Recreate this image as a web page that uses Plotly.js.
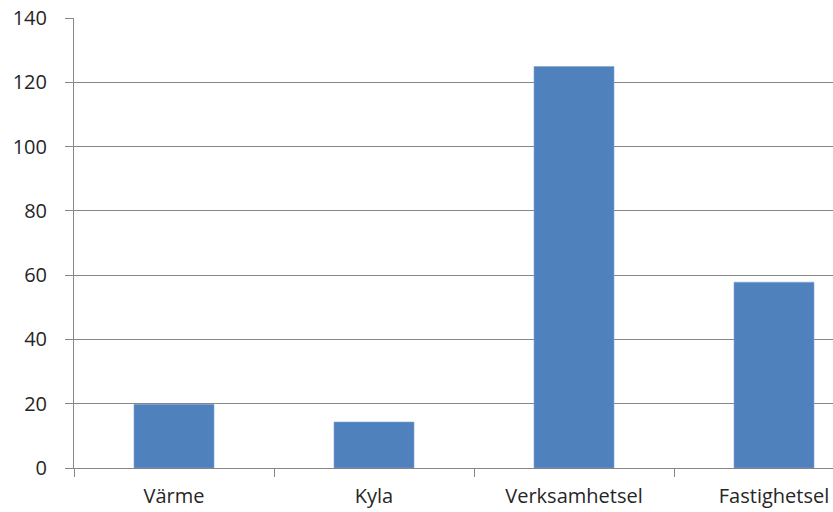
<!DOCTYPE html>
<html>
<head>
<meta charset="utf-8">
<script src="https://cdn.plot.ly/plotly-3.0.1.min.js"></script>
<style>html,body{margin:0;padding:0;overflow:hidden;background:#fff}</style>
</head>
<body>
<div id="chart" style="width:833px;height:512px"></div>
<script>
const categories = ["Värme", "Kyla", "Verksamhetsel", "Fastighetsel"];
const values = [19.8, 14.3, 124.9, 57.8];
const yTicks = [0, 20, 40, 60, 80, 100, 120, 140];

const FONT = "Open Sans, DejaVu Sans, sans-serif";
const trace = {
  type: "bar",
  x: categories,
  y: values,
  width: 0.4,
  marker: {color: "#4F81BD", line: {color: "#7FA3D0", width: 0.6}},
  hoverinfo: "skip"
};
const layout = {
  width: 833, height: 512,
  margin: {l: 74, r: 0, t: 18, b: 44, pad: 0},
  paper_bgcolor: "#ffffff", plot_bgcolor: "#ffffff",
  showlegend: false,
  font: {family: FONT, size: 20, color: "#262626"},
  bargap: 0.6,
  xaxis: {
    type: "category",
    range: [-0.5, 3.295],
    showgrid: false,
    showline: true, linecolor: "#868686", linewidth: 1,
    ticks: "outside", tickson: "boundaries", ticklen: 8, tickcolor: "#868686", tickwidth: 1,
    ticklabelstandoff: 10,
    tickfont: {family: FONT, size: 20, color: "#262626"},
    fixedrange: true, zeroline: false
  },
  yaxis: {
    range: [0, 140],
    tickvals: yTicks,
    ticktext: yTicks.map(String),
    showgrid: true, gridcolor: "#868686", gridwidth: 1,
    showline: true, linecolor: "#868686", linewidth: 1,
    ticks: "outside", ticklen: 8, tickcolor: "#868686", tickwidth: 1,
    ticklabelstandoff: 14,
    tickfont: {family: FONT, size: 20, color: "#262626"},
    zeroline: false, fixedrange: true
  }
};
Plotly.newPlot("chart", [trace], layout, {displayModeBar: false, staticPlot: true});
</script>
</body>
</html>
